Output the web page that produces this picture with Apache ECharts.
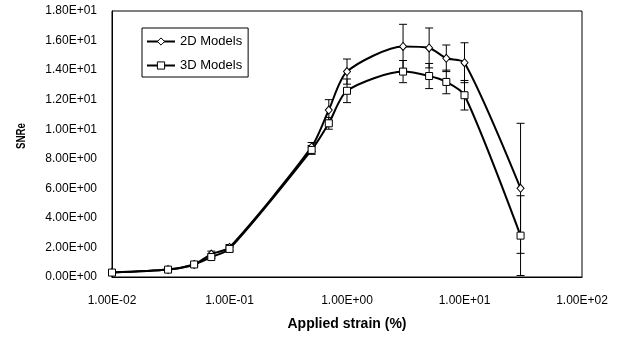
<!DOCTYPE html>
<html><head><meta charset="utf-8">
<script src="https://cdn.jsdelivr.net/npm/echarts@6/dist/echarts.min.js"></script>
<style>html,body{margin:0;padding:0;background:#fff}#c{width:625px;height:338px}</style>
</head><body><div id="c"></div>
<script>
const strain = [0.01, 0.03, 0.05, 0.07, 0.1, 0.5, 0.7, 1, 3, 5, 7, 10, 30];
const snr2D = [0.3, 0.5, 0.85, 1.55, 2.0, 8.8, 11.3, 13.9, 15.6, 15.5, 14.8, 14.5, 6.0];
const snr3D = [0.3, 0.5, 0.85, 1.35, 1.9, 8.6, 10.4, 12.6, 13.9, 13.6, 13.2, 12.3, 2.8];
const err2D = [0.1, 0.1, 0.1, 0.2, 0.2, 0.3, 0.7, 0.85, 1.5, 1.35, 0.9, 1.35, 4.4];
const err3D = [0.1, 0.1, 0.1, 0.1, 0.2, 0.3, 0.4, 0.8, 0.75, 0.85, 0.8, 1.0, 2.7];
const xTicks = ['1.00E-02', '1.00E-01', '1.00E+00', '1.00E+01', '1.00E+02'];

function sci(v) {
  if (v === 0) return '0.00E+00';
  let e = Math.floor(Math.log10(Math.abs(v)) + 1e-9);
  let m = v / Math.pow(10, e);
  return m.toFixed(2) + 'E' + (e < 0 ? '-' : '+') + String(Math.abs(e)).padStart(2, '0');
}

const font = 'Liberation Sans, Arial, sans-serif';
function errData(vals, errs) {
  return strain.map((x, i) => [x, vals[i] - errs[i], vals[i] + errs[i]]);
}
function errSeries(vals, errs) {
  return {
    type: 'custom',
    data: errData(vals, errs),
    encode: { x: 0, y: [1, 2] },
    z: 1,
    silent: true,
    renderItem: function (params, api) {
      const x = api.value(0);
      const lo = api.coord([x, Math.max(0, api.value(1))]);
      const hi = api.coord([x, api.value(2)]);
      const w = 4;
      const st = { stroke: '#000', lineWidth: 1, fill: null };
      return {
        type: 'group',
        children: [
          { type: 'line', shape: { x1: lo[0], y1: lo[1], x2: hi[0], y2: hi[1] }, style: st },
          { type: 'line', shape: { x1: lo[0] - w, y1: lo[1], x2: lo[0] + w, y2: lo[1] }, style: st },
          { type: 'line', shape: { x1: hi[0] - w, y1: hi[1], x2: hi[0] + w, y2: hi[1] }, style: st }
        ]
      };
    }
  };
}

const chart = echarts.init(document.getElementById('c'));
chart.setOption({
  animation: false,
  backgroundColor: '#fff',
  textStyle: { fontFamily: font },
  grid: { left: 112, right: 43, top: 11, bottom: 61, show: true, borderColor: '#000', borderWidth: 1, backgroundColor: 'transparent' },
  legend: {
    data: ['2D Models', '3D Models'],
    orient: 'vertical', left: 142, top: 28,
    borderColor: '#000', borderWidth: 1, padding: [6, 6, 4, 4],
    itemWidth: 28, itemHeight: 9, itemGap: 9,
    itemStyle: { color: '#fff', borderColor: '#000', borderWidth: 1 },
    lineStyle: { color: '#000', width: 2 },
    textStyle: { fontFamily: font, fontSize: 13, color: '#000', lineHeight: 15 }
  },
  graphic: [{
    type: 'text', x: 21, y: 136, rotation: Math.PI / 2, scaleX: 0.75,
    style: { text: 'SNRe', font: 'bold 13px Liberation Sans, Arial, sans-serif', fill: '#000', textAlign: 'center', textVerticalAlign: 'middle' }
  }],
  xAxis: {
    type: 'log', logBase: 10, min: 0.01, max: 100,
    name: 'Applied strain (%)', nameLocation: 'middle', nameGap: 40,
    nameTextStyle: { fontFamily: font, fontSize: 14, fontWeight: 'bold', color: '#000' },
    axisLine: { lineStyle: { color: '#000' } },
    axisTick: { show: false },
    splitLine: { show: false },
    minorTick: { show: false },
    axisLabel: {
      color: '#000', fontFamily: font, fontSize: 12, margin: 18,
      formatter: function (v) { return xTicks[Math.round(Math.log10(v)) + 2]; }
    }
  },
  yAxis: {
    type: 'value', min: 0, max: 18, interval: 2,
    axisLine: { show: true, lineStyle: { color: '#000' } },
    axisTick: { show: false },
    splitLine: { show: false },
    axisLabel: { color: '#000', fontFamily: font, fontSize: 12, margin: 15, formatter: sci }
  },
  series: [
    errSeries(snr2D, err2D),
    errSeries(snr3D, err3D),
    {
      name: '2D Models', type: 'line', smooth: 0.25,
      data: strain.map((x, i) => [x, snr2D[i]]),
      symbol: 'diamond', symbolSize: [7, 8], showAllSymbol: true,
      lineStyle: { color: '#000', width: 2 },
      itemStyle: { color: '#fff', borderColor: '#000', borderWidth: 1 },
      z: 3
    },
    {
      name: '3D Models', type: 'line', smooth: 0.25,
      data: strain.map((x, i) => [x, snr3D[i]]),
      symbol: 'rect', symbolSize: 7, showAllSymbol: true,
      lineStyle: { color: '#000', width: 2 },
      itemStyle: { color: '#fff', borderColor: '#000', borderWidth: 1 },
      z: 3
    }
  ]
});
</script></body></html>
